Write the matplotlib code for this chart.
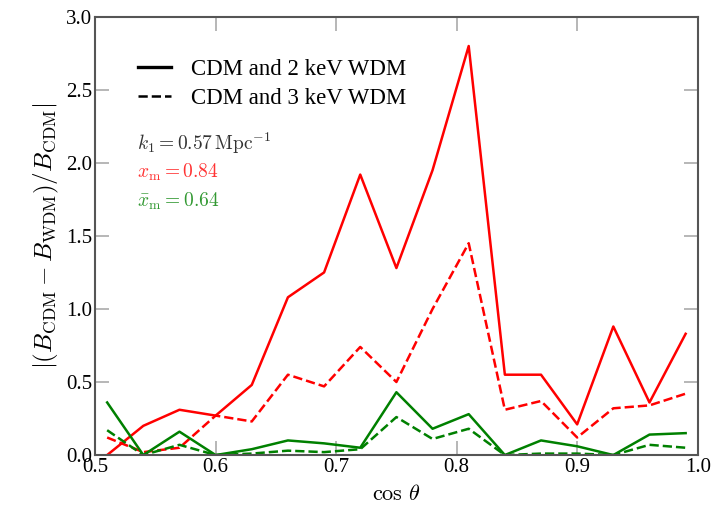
import matplotlib
matplotlib.use('Agg')
import matplotlib.pyplot as plt
from matplotlib.lines import Line2D

plt.rcParams['font.family'] = 'serif'
plt.rcParams['font.serif'] = ['Liberation Serif', 'DejaVu Serif']
plt.rcParams['mathtext.fontset'] = 'cm'

cos_theta = [0.51, 0.54, 0.57, 0.60, 0.63, 0.66, 0.69, 0.72, 0.75,
             0.78, 0.81, 0.84, 0.87, 0.90, 0.93, 0.96, 0.99]

red_2kev = [0.0, 0.20, 0.31, 0.27, 0.48, 1.08, 1.25, 1.92, 1.28,
            1.95, 2.80, 0.55, 0.55, 0.21, 0.88, 0.36, 0.83]
red_3kev = [0.12, 0.02, 0.05, 0.27, 0.23, 0.55, 0.47, 0.74, 0.50,
            1.00, 1.45, 0.31, 0.37, 0.12, 0.32, 0.34, 0.42]
green_2kev = [0.36, 0.0, 0.16, 0.0, 0.04, 0.10, 0.08, 0.05, 0.43,
              0.18, 0.28, 0.0, 0.10, 0.06, 0.0, 0.14, 0.15]
green_3kev = [0.17, 0.0, 0.07, 0.0, 0.01, 0.03, 0.02, 0.04, 0.26,
              0.11, 0.18, 0.0, 0.01, 0.01, 0.0, 0.07, 0.05]

legend_labels = ['CDM and 2 keV WDM', 'CDM and 3 keV WDM']

fig = plt.figure(figsize=(7.26, 5.09), dpi=100)
ax = fig.add_axes([0.131, 0.106, 0.830, 0.861])

ax.plot(cos_theta, red_2kev, color='#ff0000', lw=1.8)
ax.plot(cos_theta, red_3kev, color='#ff0000', lw=1.8, ls='--')
ax.plot(cos_theta, green_2kev, color='#008000', lw=1.8)
ax.plot(cos_theta, green_3kev, color='#008000', lw=1.8, ls='--')

ax.set_xlim(0.5, 1.0)
ax.set_ylim(0.0, 3.0)
ax.set_xticks([0.5, 0.6, 0.7, 0.8, 0.9, 1.0])
ax.set_yticks([0.0, 0.5, 1.0, 1.5, 2.0, 2.5, 3.0])
ax.tick_params(direction='in', length=10, width=1.2, color='#aaaaaa',
               top=True, right=True, labelsize=15, pad=2)
for s in ax.spines.values():
    s.set_color('#555555')
    s.set_linewidth(1.5)

ax.set_xlabel(r'$\cos\,\theta$', fontsize=16, labelpad=6)
ax.set_ylabel(r'$|(B_{\rm CDM}-B_{\rm WDM})/B_{\rm CDM}|$', fontsize=18, labelpad=4)

handles = [Line2D([], [], color='black', lw=2.4),
           Line2D([], [], color='black', lw=1.8, ls='--')]
ax.legend(handles, legend_labels, loc='upper left', bbox_to_anchor=(0.056, 0.925),
          frameon=False, fontsize=16.5, handlelength=1.45, handletextpad=0.87,
          labelspacing=0.36, borderaxespad=0)

ax.text(0.07, 0.697, r'$k_1=0.57\,{\rm Mpc}^{-1}$', transform=ax.transAxes,
        fontsize=14, color='#333333')
ax.text(0.07, 0.632, r'$x_{\rm m}=0.84$', transform=ax.transAxes,
        fontsize=14, color='#ff3333')
ax.text(0.07, 0.567, r'$\bar{x}_{\rm m}=0.64$', transform=ax.transAxes,
        fontsize=14, color='#339933')

# title sits almost entirely above the figure edge
fig.text(0.452, 1.013, 'p', fontsize=16, va='baseline', ha='center')

fig.savefig('out.png', dpi=100)
